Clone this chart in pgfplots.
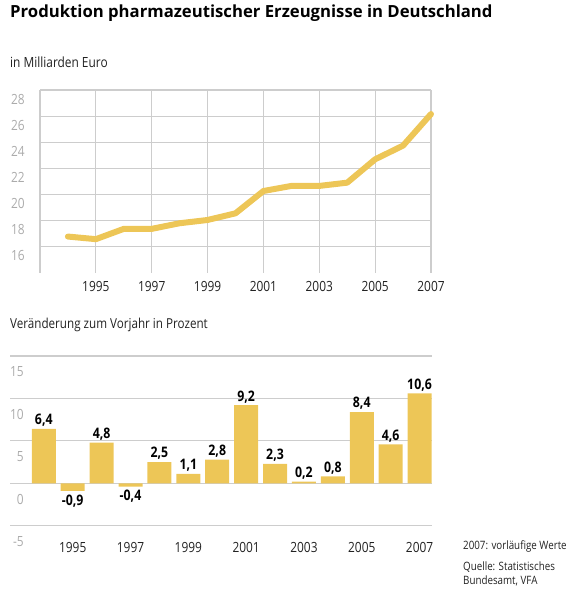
\documentclass[border=0pt]{standalone}
\usepackage{fontspec}
\setmainfont{Open Sans}
\newfontfamily\cond{Open Sans}[FakeStretch=0.85]
\usepackage{pgfplots}
\pgfplotsset{compat=1.18}
\definecolor{gold}{HTML}{EDC657}
\definecolor{gridgray}{HTML}{CDCDCD}
\definecolor{labgray}{HTML}{ABABAB}
\definecolor{txt}{HTML}{222222}
\pgfplotstableread{
x y
1994 16.77
1995 16.57
1996 17.36
1997 17.36
1998 17.79
1999 18.04
2000 18.55
2001 20.26
2002 20.65
2003 20.65
2004 20.90
2005 22.69
2006 23.74
2007 26.16
}\prod
\pgfplotstableread{
x y lab
1994 6.4 6,4
1995 -0.9 -0,9
1996 4.8 4,8
1997 -0.4 -0,4
1998 2.5 2,5
1999 1.1 1,1
2000 2.8 2,8
2001 9.2 9,2
2002 2.3 2,3
2003 0.2 0,2
2004 0.8 0,8
2005 8.4 8,4
2006 4.6 4,6
2007 10.6 10,6
}\chg
\pgfplotstableread{
x y lab
1994 6.4 6,4
1996 4.8 4,8
1998 2.5 2,5
1999 1.1 1,1
2000 2.8 2,8
2001 9.2 9,2
2002 2.3 2,3
2003 0.2 0,2
2004 0.8 0,8
2005 8.4 8,4
2006 4.6 4,6
2007 10.6 10,6
}\chgpos
\pgfplotstableread{
x y lab
1995 -0.9 -0,9
1997 -0.4 -0,4
}\chgneg
\begin{document}
\begin{tikzpicture}
\useasboundingbox (0pt,0pt) rectangle (578pt,-600pt);
\node[anchor=west, font=\fontsize{16.7}{19}\selectfont\bfseries, inner sep=0pt, text=black] at (10pt,-13pt) {Produktion pharmazeutischer Erzeugnisse in Deutschland};
\node[anchor=west, font=\cond\fontsize{14}{16}\selectfont, inner sep=0pt, text=txt] at (10pt,-62pt) {in Milliarden Euro};
\node[anchor=west, font=\cond\fontsize{13.7}{16}\selectfont, inner sep=0pt, text=txt] at (10pt,-325pt) {Veränderung zum Vorjahr in Prozent};
\node[anchor=west, font=\cond\fontsize{11.5}{14}\selectfont, inner sep=0pt, text=txt] at (463pt,-546pt) {2007: vorläufige Werte};
\node[anchor=north west, align=left, font=\cond\fontsize{11.5}{14}\selectfont, inner sep=0pt, text=txt] at (463pt,-562pt) {Quelle: Statistisches\\Bundesamt, VFA};

\begin{axis}[
  at={(40pt,-272.7pt)}, anchor=south west, scale only axis,
  width=391pt, height=182.7pt,
  xmin=1993, xmax=2007, ymin=14, ymax=28,
  axis line style={draw=none}, tick style={draw=none},
  xmajorgrids, ymajorgrids,
  major grid style={gridgray, line width=1.2pt},
  xtick={1993,1995,...,2007},
  xticklabels={{},1995,1997,1999,2001,2003,2005,2007},
  ytick={16,18,...,28},
  yticklabels={16,18,20,22,24,26,28},
  xticklabel style={font=\cond\fontsize{14}{16}\selectfont, text=txt, anchor=center, inner sep=0pt, yshift=-14pt},
  yticklabel style={font=\cond\fontsize{14}{16}\selectfont, text=labgray, anchor=east, inner sep=0pt, xshift=-15pt, yshift=-9pt},
  clip=false,
]
\addplot[gold, line width=6pt, line join=round, line cap=round] table[x=x,y=y] {\prod};
\end{axis}

\begin{axis}[
  at={(10pt,-525.7pt)}, anchor=south west, scale only axis,
  width=421.7pt, height=169.7pt,
  xmin=1992.83, xmax=2007.42, ymin=-5, ymax=15,
  axis line style={draw=none}, tick style={draw=none},
  ymajorgrids,
  major grid style={gridgray, line width=1.2pt},
  xtick={1995,1997,...,2007},
  xticklabels={1995,1997,1999,2001,2003,2005,2007},
  ytick={-5,0,...,15},
  yticklabels={-5,0,5,10,15},
  xticklabel style={font=\cond\fontsize{14}{16}\selectfont, text=txt, anchor=center, inner sep=0pt, yshift=-22pt},
  yticklabel style={font=\cond\fontsize{14}{16}\selectfont, text=labgray, anchor=east, inner sep=0pt, xshift=14pt, yshift=-16pt},
  clip=false,
]
\addplot[ybar, bar width=24pt, fill=gold, draw=none] table[x=x,y=y] {\chg};
\addplot[draw=none, mark=none, nodes near coords, point meta=explicit symbolic,
  every node near coord/.style={font=\cond\bfseries\fontsize{14.5}{16}\selectfont, text=black, anchor=center, inner sep=0pt, yshift=8.5pt}]
  table[x=x,y=y,meta=lab] {\chgpos};
\addplot[draw=none, mark=none, nodes near coords, point meta=explicit symbolic,
  every node near coord/.style={font=\cond\bfseries\fontsize{14.5}{16}\selectfont, text=black, anchor=center, inner sep=0pt, yshift=-10pt}]
  table[x=x,y=y,meta=lab] {\chgneg};
\end{axis}
\end{tikzpicture}
\end{document}
